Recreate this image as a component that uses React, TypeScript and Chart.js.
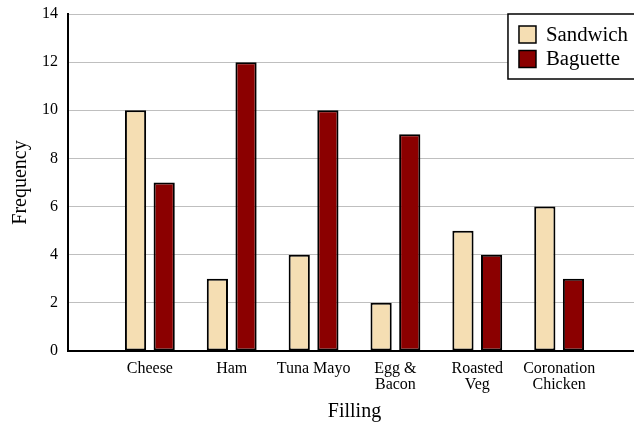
import React, { useEffect, useRef } from "react";
import { Chart, registerables } from "chart.js";

Chart.register(...registerables);

const categories: (string | string[])[] = [
  "Cheese",
  "Ham",
  "Tuna Mayo",
  ["Egg &", "Bacon"],
  ["Roasted", "Veg"],
  ["Coronation", "Chicken"],
];
const sandwich = [10, 3, 4, 2, 5, 6];
const baguette = [7, 12, 10, 9, 4, 3];
const yTicks = [0, 2, 4, 6, 8, 10, 12, 14];

const FONT = "'Liberation Serif', 'Times New Roman', serif";

const legendBox = {
  id: "legendBox",
  afterDraw(chart: any) {
    const { ctx, chartArea } = chart;
    ctx.save();
    ctx.font = `20.8px ${FONT}`;
    const names: string[] = chart.data.datasets.map((d: any) => d.label);
    const maxW = Math.max(...names.map((n) => ctx.measureText(n).width));
    const padL = 11, sw = 17, gap = 10, padR = 13;
    const w = padL + sw + gap + maxW + padR;
    const h = 65;
    const x = chartArea.right - w;
    const y = chartArea.top;
    ctx.fillStyle = "#ffffff";
    ctx.fillRect(x, y, w, h);
    ctx.lineWidth = 1.5;
    ctx.strokeStyle = "#000000";
    ctx.strokeRect(x, y, w, h);
    chart.data.datasets.forEach((ds: any, i: number) => {
      const cy = y + 20.5 + i * 24.5;
      ctx.fillStyle = ds.backgroundColor;
      ctx.fillRect(x + padL, cy - sw / 2, sw, sw);
      ctx.lineWidth = 1.5;
      ctx.strokeStyle = "#000000";
      ctx.strokeRect(x + padL, cy - sw / 2, sw, sw);
      ctx.fillStyle = "#000000";
      ctx.textBaseline = "middle";
      ctx.textAlign = "left";
      ctx.fillText(ds.label, x + padL + sw + gap, cy + 1);
    });
    ctx.restore();
  },
};

export default function App() {
  const ref = useRef<HTMLCanvasElement | null>(null);
  useEffect(() => {
    if (!ref.current) return;
    Chart.defaults.font.family = FONT;
    Chart.defaults.color = "#000000";
    const chart = new Chart(ref.current, {
      type: "bar",
      data: {
        datasets: [
          {
            label: "Sandwich",
            data: sandwich.map((v, i) => ({ x: i, y: v })),
            backgroundColor: "#F5DEB3",
            borderColor: "#000000",
            borderWidth: 2,
            borderSkipped: false,
            categoryPercentage: 0.7,
            barPercentage: 0.74,
          },
          {
            label: "Baguette",
            data: baguette.map((v, i) => ({ x: i, y: v })),
            backgroundColor: "#8B0000",
            borderColor: "#000000",
            borderWidth: 2,
            borderSkipped: false,
            categoryPercentage: 0.7,
            barPercentage: 0.74,
          },
        ],
      },
      options: {
        animation: false,
        responsive: false,
        layout: { padding: { top: 14, right: 1, bottom: 0, left: 0 } },
        plugins: { legend: { display: false }, tooltip: { enabled: false } },
        scales: {
          x: {
            type: "linear",
            min: -1,
            max: 6,
            offset: false,
            afterBuildTicks: (scale: any) => {
              scale.ticks = categories.map((_, i) => ({ value: i }));
            },
            afterFit: (scale: any) => {
              scale.height = 73;
              scale.paddingLeft = 0;
              scale.paddingRight = 0;
            },
            grid: { display: false, drawTicks: false, offset: false },
            border: { display: true, color: "#000000", width: 2 },
            ticks: {
              padding: 10,
              maxRotation: 0,
              autoSkip: false,
              font: { size: 16, lineHeight: 1.0, family: FONT },
              color: "#000000",
              callback: (value: any) => categories[Math.round(Number(value))] ?? "",
            },
            title: {
              display: true,
              text: "Filling",
              font: { size: 20, family: FONT },
              color: "#000000",
              padding: { top: 0, bottom: 0 },
            },
          },
          y: {
            min: 0,
            max: 14,
            afterBuildTicks: (scale: any) => {
              scale.ticks = yTicks.map((v) => ({ value: v }));
            },
            afterFit: (scale: any) => {
              scale.width = 68;
              scale.paddingTop = 0;
              scale.paddingBottom = 0;
            },
            grid: { color: "#bfbfbf", lineWidth: 1, drawTicks: false },
            border: { display: true, color: "#000000", width: 2 },
            ticks: {
              padding: 10,
              font: { size: 16, family: FONT },
              color: "#000000",
            },
            title: {
              display: true,
              text: "Frequency",
              font: { size: 20, family: FONT },
              color: "#000000",
              padding: { top: 9, bottom: 0 },
            },
          },
        },
      },
      plugins: [legendBox],
    } as any);
    return () => chart.destroy();
  }, []);

  return (
    <div
      style={{
        position: "absolute",
        left: 0,
        top: 0,
        width: 634,
        height: 424,
        overflow: "hidden",
        background: "#ffffff",
      }}
    >
      <canvas ref={ref} width={642} height={424} style={{ width: 642, height: 424, display: "block" }} />
    </div>
  );
}
